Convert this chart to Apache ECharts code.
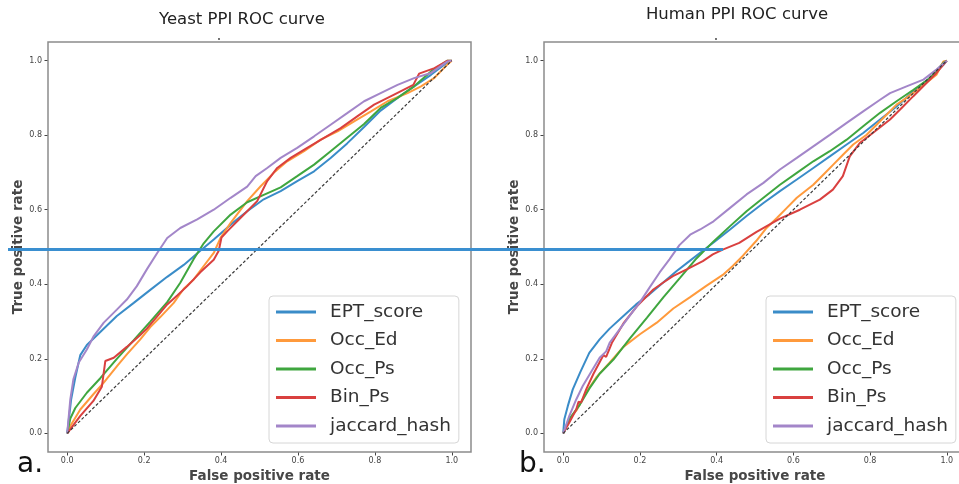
<!DOCTYPE html>
<html>
<head>
    <meta charset="utf-8">
    <script src="https://cdn.jsdelivr.net/npm/echarts@6/dist/echarts.min.js"></script>
    <style>
        body { margin: 0; background: #fff; }
        #main { width: 959px; height: 484px; }
    </style>
</head>
<body>
    <div id="main"></div>
    <script>
        // legend names, same order in both panels
        var names = ['EPT_score', 'Occ_Ed', 'Occ_Ps', 'Bin_Ps', 'jaccard_hash'];
        var colors = ['#3a8cc8', '#ff9a3c', '#3fa63f', '#d9403f', '#a386c9'];
        var ticks = [0, 0.2, 0.4, 0.6, 0.8, 1.0];
        var diag = [[0, 0], [1, 1]];

        // Yeast PPI ROC curve, [fpr, tpr]
        var yeastEPT = [[0,0],[0.01,0.09],[0.021,0.15],[0.034,0.21],[0.051,0.237],[0.086,0.272],[0.129,0.315],[0.173,0.35],[0.216,0.385],[0.26,0.42],[0.303,0.452],[0.346,0.49],[0.381,0.52],[0.425,0.56],[0.468,0.596],[0.511,0.628],[0.555,0.65],[0.598,0.677],[0.642,0.703],[0.685,0.739],[0.728,0.778],[0.772,0.822],[0.815,0.866],[0.859,0.9],[0.902,0.931],[0.946,0.962],[0.989,0.996],[1,1]];
        var yeastOccEd = [[0,0],[0.008,0.02],[0.034,0.064],[0.068,0.105],[0.095,0.136],[0.13,0.181],[0.155,0.212],[0.19,0.252],[0.216,0.285],[0.242,0.312],[0.277,0.35],[0.303,0.388],[0.329,0.413],[0.355,0.449],[0.381,0.484],[0.399,0.525],[0.425,0.565],[0.468,0.623],[0.503,0.663],[0.537,0.699],[0.572,0.73],[0.616,0.757],[0.659,0.788],[0.703,0.81],[0.746,0.837],[0.79,0.864],[0.833,0.891],[0.885,0.913],[0.92,0.931],[0.955,0.954],[0.989,0.99],[1,1]];
        var yeastOccPs = [[0,0],[0.008,0.04],[0.021,0.068],[0.051,0.109],[0.086,0.148],[0.129,0.2],[0.173,0.25],[0.216,0.3],[0.26,0.352],[0.294,0.404],[0.329,0.468],[0.355,0.51],[0.381,0.542],[0.425,0.587],[0.468,0.62],[0.511,0.64],[0.555,0.66],[0.598,0.69],[0.642,0.721],[0.685,0.757],[0.728,0.793],[0.772,0.83],[0.815,0.873],[0.859,0.9],[0.902,0.931],[0.946,0.971],[0.989,1],[1,1]];
        var yeastBinPs = [[0,0],[0.034,0.047],[0.068,0.087],[0.09,0.125],[0.099,0.194],[0.121,0.203],[0.155,0.232],[0.19,0.264],[0.207,0.281],[0.234,0.314],[0.26,0.346],[0.286,0.37],[0.312,0.395],[0.346,0.432],[0.381,0.466],[0.394,0.49],[0.401,0.525],[0.416,0.542],[0.442,0.569],[0.468,0.596],[0.494,0.623],[0.52,0.677],[0.546,0.712],[0.581,0.739],[0.624,0.766],[0.668,0.793],[0.711,0.819],[0.755,0.851],[0.798,0.882],[0.85,0.909],[0.9,0.935],[0.915,0.965],[0.955,0.98],[0.989,1],[1,1]];
        var yeastJaccard = [[0,0],[0.008,0.091],[0.016,0.145],[0.03,0.19],[0.051,0.225],[0.069,0.261],[0.095,0.297],[0.129,0.332],[0.155,0.359],[0.181,0.395],[0.207,0.44],[0.234,0.484],[0.26,0.524],[0.294,0.551],[0.338,0.574],[0.381,0.6],[0.425,0.632],[0.468,0.662],[0.49,0.69],[0.52,0.712],[0.555,0.739],[0.598,0.766],[0.642,0.797],[0.685,0.828],[0.728,0.859],[0.772,0.891],[0.815,0.913],[0.859,0.935],[0.902,0.953],[0.946,0.967],[0.989,0.998],[1,1]];

        // Human PPI ROC curve
        var humanEPT = [[0,0],[0.003,0.038],[0.012,0.073],[0.025,0.118],[0.044,0.163],[0.068,0.216],[0.095,0.252],[0.121,0.281],[0.157,0.315],[0.19,0.346],[0.225,0.373],[0.26,0.404],[0.295,0.435],[0.329,0.462],[0.364,0.49],[0.392,0.512],[0.435,0.547],[0.478,0.583],[0.522,0.618],[0.565,0.65],[0.609,0.681],[0.652,0.712],[0.695,0.743],[0.739,0.775],[0.782,0.806],[0.826,0.842],[0.869,0.877],[0.913,0.918],[0.956,0.953],[0.991,0.989],[1,1]];
        var humanOccEd = [[0,0],[0.016,0.038],[0.036,0.064],[0.06,0.11],[0.086,0.15],[0.121,0.19],[0.157,0.232],[0.2,0.266],[0.244,0.297],[0.287,0.335],[0.33,0.365],[0.372,0.395],[0.416,0.425],[0.442,0.449],[0.468,0.476],[0.503,0.516],[0.53,0.551],[0.557,0.578],[0.583,0.605],[0.609,0.632],[0.652,0.667],[0.678,0.694],[0.704,0.721],[0.73,0.748],[0.756,0.775],[0.791,0.801],[0.817,0.828],[0.843,0.855],[0.869,0.882],[0.895,0.9],[0.93,0.927],[0.973,0.962],[0.991,0.998],[1,1]];
        var humanOccPs = [[0,0],[0.016,0.038],[0.044,0.078],[0.068,0.12],[0.095,0.16],[0.131,0.198],[0.174,0.255],[0.218,0.31],[0.261,0.365],[0.305,0.418],[0.348,0.47],[0.392,0.515],[0.435,0.556],[0.478,0.596],[0.522,0.632],[0.565,0.667],[0.609,0.699],[0.652,0.73],[0.695,0.757],[0.739,0.788],[0.782,0.824],[0.826,0.86],[0.869,0.891],[0.913,0.922],[0.956,0.953],[0.991,0.994],[1,1]];
        var humanBinPs = [[0,0],[0.016,0.029],[0.034,0.064],[0.04,0.085],[0.047,0.083],[0.06,0.118],[0.079,0.16],[0.105,0.21],[0.112,0.205],[0.127,0.243],[0.157,0.295],[0.192,0.341],[0.235,0.386],[0.26,0.404],[0.286,0.422],[0.322,0.44],[0.364,0.462],[0.39,0.48],[0.416,0.493],[0.459,0.511],[0.503,0.54],[0.565,0.576],[0.617,0.6],[0.669,0.627],[0.703,0.654],[0.729,0.69],[0.747,0.743],[0.773,0.779],[0.807,0.806],[0.852,0.842],[0.886,0.877],[0.912,0.904],[0.947,0.94],[0.973,0.967],[1,1]];
        var humanJaccard = [[0,0],[0.016,0.047],[0.034,0.091],[0.051,0.127],[0.077,0.172],[0.095,0.203],[0.112,0.22],[0.121,0.243],[0.147,0.279],[0.173,0.315],[0.199,0.35],[0.225,0.391],[0.251,0.431],[0.277,0.467],[0.303,0.505],[0.331,0.533],[0.357,0.547],[0.392,0.569],[0.435,0.605],[0.478,0.641],[0.522,0.672],[0.565,0.708],[0.609,0.739],[0.652,0.77],[0.695,0.801],[0.739,0.833],[0.782,0.864],[0.826,0.895],[0.852,0.913],[0.895,0.931],[0.939,0.949],[0.973,0.976],[1,1]];

        var font = 'DejaVu Sans';
        var chart = echarts.init(document.getElementById('main'));

        function fmt(v) { return v.toFixed(1); }

        // axes run -0.05 .. 1.05 like matplotlib's default margins; ticks only at 0, 0.2 .. 1.0
        function xAx(i) {
            return {
                gridIndex: i, type: 'value', min: -0.05, max: 1.05,
                axisLine: { show: false, onZero: false },
                axisTick: { show: true, length: 3.5, customValues: ticks, lineStyle: { color: '#444', width: 1 } },
                axisLabel: { fontSize: 8, color: '#444', margin: 5, fontFamily: font, customValues: ticks, formatter: fmt },
                splitLine: { show: false },
                name: 'False positive rate', nameLocation: 'middle', nameGap: 15,
                nameTextStyle: { fontSize: 13.5, color: '#474747', fontWeight: 'bold', fontFamily: font }
            };
        }
        function yAx(i) {
            return {
                gridIndex: i, type: 'value', min: -0.05, max: 1.05,
                axisLine: { show: false, onZero: false },
                axisTick: { show: true, length: 3.5, customValues: ticks, lineStyle: { color: '#444', width: 1 } },
                axisLabel: { fontSize: 8, color: '#444', margin: 6, fontFamily: font, customValues: ticks, formatter: fmt },
                splitLine: { show: false },
                name: 'True positive rate', nameLocation: 'middle', nameGap: 18,
                nameTextStyle: { fontSize: 13.5, color: '#474747', fontWeight: 'bold', fontFamily: font }
            };
        }
        function line(name, data, i, color) {
            return {
                name: name, type: 'line', xAxisIndex: i, yAxisIndex: i, data: data,
                showSymbol: false, symbol: 'none', color: color,
                lineStyle: { width: 2, color: color }, z: 2
            };
        }
        function dash(i) {
            return {
                type: 'line', xAxisIndex: i, yAxisIndex: i, data: diag, showSymbol: false, symbol: 'none',
                lineStyle: { width: 1.2, color: '#3a3a3a', type: [3, 2] }, z: 3, silent: true
            };
        }
        function leg(left) {
            return {
                data: names, left: left, top: 296, orient: 'vertical',
                icon: 'rect', itemWidth: 40, itemHeight: 3, itemGap: 6.5,
                padding: [5, 8, 6, 7],
                backgroundColor: '#fff', borderColor: '#d6d6d6', borderWidth: 1, borderRadius: 4,
                textStyle: { fontSize: 18.5, color: '#333', fontFamily: font, lineHeight: 22, padding: [0, 0, 0, 9] }
            };
        }

        var yeast = [yeastEPT, yeastOccEd, yeastOccPs, yeastBinPs, yeastJaccard];
        var human = [humanEPT, humanOccEd, humanOccPs, humanBinPs, humanJaccard];
        var series = [];
        for (var k = 0; k < names.length; k++) series.push(line(names[k], yeast[k], 0, colors[k]));
        series.push(dash(0));
        for (var k = 0; k < names.length; k++) series.push(line(names[k], human[k], 1, colors[k]));
        series.push(dash(1));

        var option = {
            animation: false,
            backgroundColor: '#fff',
            // the right panel runs past the canvas edge, so no auto shrinking
            grid: [
                { left: 48, top: 42, width: 423, height: 410, outerBoundsMode: 'none' },
                { left: 544, top: 42, width: 422, height: 410, outerBoundsMode: 'none' }
            ],
            xAxis: [xAx(0), xAx(1)],
            yAxis: [yAx(0), yAx(1)],
            legend: [leg(269), leg(766)],
            series: series,
            graphic: [
                { type: 'rect', shape: { x: 48, y: 42, width: 423, height: 410 }, style: { fill: 'none', stroke: '#8c8c8c', lineWidth: 1.5 }, z: 1 },
                { type: 'rect', shape: { x: 544, y: 42, width: 422, height: 410 }, style: { fill: 'none', stroke: '#8c8c8c', lineWidth: 1.5 }, z: 1 },
                { type: 'text', style: { x: 242, y: 20, text: 'Yeast PPI ROC curve', fill: '#222', font: '16.5px "DejaVu Sans"', textAlign: 'center', textVerticalAlign: 'middle' } },
                { type: 'text', style: { x: 737, y: 15, text: 'Human PPI ROC curve', fill: '#222', font: '16.5px "DejaVu Sans"', textAlign: 'center', textVerticalAlign: 'middle' } },
                { type: 'circle', shape: { cx: 219, cy: 39, r: 0.9 }, style: { fill: '#333' } },
                { type: 'circle', shape: { cx: 716, cy: 39, r: 0.9 }, style: { fill: '#333' } },
                { type: 'text', style: { x: 17, y: 479, text: 'a.', fill: '#111', font: '28px "DejaVu Sans"', textAlign: 'left', textVerticalAlign: 'bottom' } },
                { type: 'text', style: { x: 519, y: 479, text: 'b.', fill: '#111', font: '28px "DejaVu Sans"', textAlign: 'left', textVerticalAlign: 'bottom' } },
                { type: 'line', shape: { x1: 8, y1: 249.5, x2: 723, y2: 249.5 }, style: { stroke: '#3a8fd0', lineWidth: 3 }, z: 100 }
            ]
        };
        chart.setOption(option);

        window.onresize = function () {
            chart.resize();
        };
    </script>
</body>
</html>
